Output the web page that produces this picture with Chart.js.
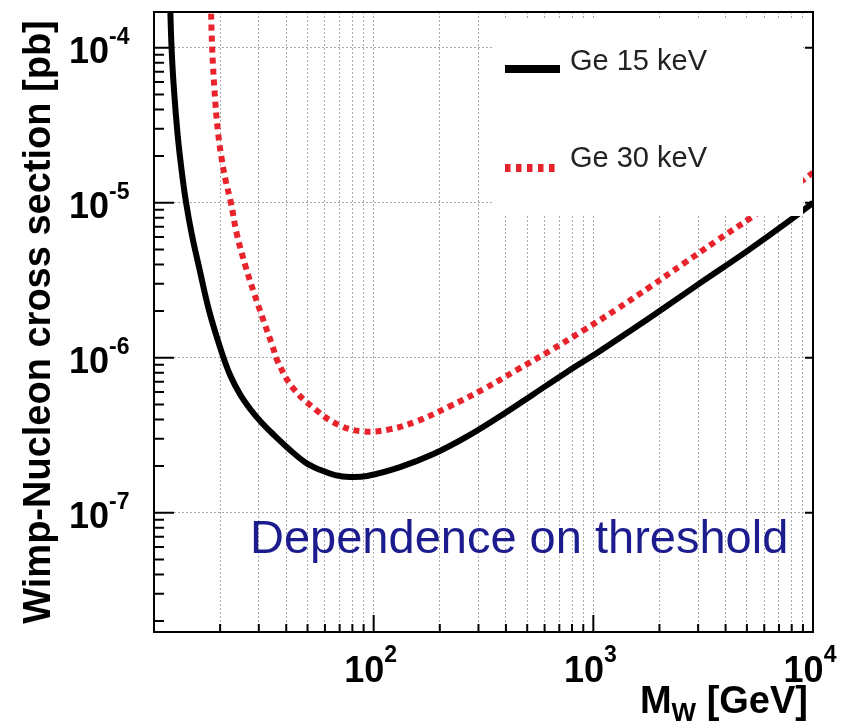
<!DOCTYPE html>
<html>
<head>
<meta charset="utf-8">
<script src="https://cdn.jsdelivr.net/npm/chart.js@4/dist/chart.umd.min.js"></script>
<style>
  body { margin: 0; background: #fff; }
  canvas { display: block; }
</style>
</head>
<body>
<canvas id="chart" width="846" height="721"></canvas>
<script>
// Ge 15 keV threshold (black, solid)
const mass15 = [11.8, 12.02, 12.34, 12.8, 13.36, 14.0, 14.9, 16.05, 17.8, 20.3, 22.2, 24.6, 27.4, 31.0, 35.5, 41.6, 48.7, 57.0, 66.7, 78.0, 93.3, 131.8, 186, 263, 376, 532, 753, 1077, 1522, 2177, 3080, 5050, 7935, 10000];
const sigma15 = [2.3e-4, 1.0e-4, 5.26e-5, 2.78e-5, 1.61e-5, 1.0e-5, 6.13e-6, 3.82e-6, 2.02e-6, 1.09e-6, 7.73e-7, 5.83e-7, 4.67e-7, 3.79e-7, 3.13e-7, 2.54e-7, 2.12e-7, 1.89e-7, 1.75e-7, 1.70e-7, 1.725e-7, 1.97e-7, 2.38e-7, 3.07e-7, 4.19e-7, 5.8e-7, 8.04e-7, 1.11e-6, 1.54e-6, 2.17e-6, 3.05e-6, 4.91e-6, 7.77e-6, 1.0e-5];

// Ge 30 keV threshold (red, dotted)
const mass30 = [18.1, 18.4, 19.0, 19.6, 20.4, 21.2, 22.4, 23.8, 26.2, 28.6, 31.5, 34.8, 36.4, 42.7, 54.9, 69.9, 89.1, 118, 157, 222, 315, 445, 636, 900, 1274, 1821, 2576, 3643, 5212, 10000];
const sigma30 = [2.3e-4, 1.0e-4, 4.54e-5, 2.78e-5, 1.86e-5, 1.39e-5, 1.0e-5, 6.32e-6, 3.82e-6, 2.59e-6, 1.74e-6, 1.165e-6, 9.6e-7, 6.44e-7, 4.58e-7, 3.66e-7, 3.35e-7, 3.45e-7, 3.89e-7, 4.86e-7, 6.25e-7, 8.28e-7, 1.11e-6, 1.5e-6, 2.05e-6, 2.88e-6, 4.05e-6, 5.69e-6, 8.0e-6, 1.56e-5];

const xDecades = [100, 1000, 10000];
const xExponents = ['2', '3', '4'];
const yDecades = [1e-7, 1e-6, 1e-5, 1e-4];
const yExponents = ['-7', '-6', '-5', '-4'];

const X_MIN = 10, X_MAX = 10000;
const Y_MIN = 1.7e-8, Y_MAX = 1.7e-4;

const isDecade = v => Math.abs(Math.log10(v) - Math.round(Math.log10(v))) < 1e-6;

function logTicks(min, max) {
  const out = [];
  for (let e = Math.floor(Math.log10(min)); e <= Math.ceil(Math.log10(max)); e++) {
    for (let m = 1; m <= 9; m++) {
      const v = m * Math.pow(10, e);
      if (v >= min * 0.9999 && v <= max * 1.0001) out.push(v);
    }
  }
  return out;
}

const FONT = '"Liberation Sans", Arial, Helvetica, sans-serif';

const decor = {
  id: 'decor',
  afterDatasetsDraw(chart) {
    const { ctx, chartArea: a, scales: { x, y } } = chart;
    ctx.save();

    // legend box (white, covers the curves like the original)
    ctx.fillStyle = '#fff';
    ctx.fillRect(492, 20, 311, 196);

    ctx.lineWidth = 8;
    ctx.strokeStyle = '#000';
    ctx.beginPath(); ctx.moveTo(505, 69); ctx.lineTo(560, 69); ctx.stroke();
    ctx.strokeStyle = '#e8232b';
    ctx.setLineDash([5.5, 5.5]);
    ctx.beginPath(); ctx.moveTo(505, 168); ctx.lineTo(560, 168); ctx.stroke();
    ctx.setLineDash([]);

    ctx.fillStyle = '#222';
    ctx.font = '29px ' + FONT;
    ctx.textAlign = 'left';
    ctx.textBaseline = 'alphabetic';
    ctx.fillText('Ge 15 keV', 570, 70);
    ctx.fillText('Ge 30 keV', 570, 167);

    // annotation
    ctx.fillStyle = '#1c1c8e';
    ctx.font = '47px ' + FONT;
    ctx.fillText('Dependence on threshold', 250, 553);

    // frame
    ctx.strokeStyle = '#000';
    ctx.lineWidth = 2;
    ctx.strokeRect(a.left, a.top, a.right - a.left, a.bottom - a.top);

    // tick marks (inside)
    ctx.beginPath();
    x.ticks.forEach(t => {
      const px = x.getPixelForValue(t.value);
      const len = isDecade(t.value) ? 17 : 8;
      ctx.moveTo(px, a.bottom); ctx.lineTo(px, a.bottom - len);
    });
    y.ticks.forEach(t => {
      const py = y.getPixelForValue(t.value);
      const major = isDecade(t.value);
      ctx.moveTo(a.left, py); ctx.lineTo(a.left + (major ? 20 : 10), py);
      if (major) { ctx.moveTo(a.right, py); ctx.lineTo(a.right - 8, py); }
    });
    ctx.stroke();

    // tick labels
    ctx.fillStyle = '#000';
    yDecades.forEach((v, i) => {
      const py = y.getPixelForValue(v);
      ctx.font = 'bold 36px ' + FONT;
      ctx.textAlign = 'right';
      ctx.fillText('10', a.left - 45, py + 15);
      ctx.font = 'bold 23px ' + FONT;
      ctx.textAlign = 'left';
      ctx.fillText(yExponents[i], a.left - 45, py - 4);
    });
    xDecades.forEach((v, i) => {
      const px = x.getPixelForValue(v);
      ctx.font = 'bold 36px ' + FONT;
      const w1 = ctx.measureText('10').width;
      ctx.font = 'bold 23px ' + FONT;
      const w2 = ctx.measureText(xExponents[i]).width;
      const left = px - (w1 + w2) / 2 - 3;
      ctx.textAlign = 'left';
      ctx.font = 'bold 36px ' + FONT;
      ctx.fillText('10', left, a.bottom + 50);
      ctx.font = 'bold 23px ' + FONT;
      ctx.fillText(xExponents[i], left + w1, a.bottom + 30);
    });

    // x title: M_W [GeV]
    ctx.textAlign = 'right';
    ctx.font = 'bold 38px ' + FONT;
    const tail = ' [GeV]';
    ctx.fillText(tail, 808, 713);
    const wTail = ctx.measureText(tail).width;
    ctx.font = 'bold 26px ' + FONT;
    ctx.fillText('W', 808 - wTail, 721);
    const wSub = ctx.measureText('W').width;
    ctx.font = 'bold 38px ' + FONT;
    ctx.fillText('M', 808 - wTail - wSub, 713);

    // y title
    ctx.translate(50, 322);
    ctx.rotate(-Math.PI / 2);
    ctx.textAlign = 'center';
    ctx.font = 'bold 38px ' + FONT;
    ctx.fillText('Wimp-Nucleon cross section [pb]', 0, 0);

    ctx.restore();
  }
};

new Chart(document.getElementById('chart'), {
  type: 'line',
  data: {
    datasets: [
      {
        label: 'Ge 15 keV',
        data: mass15.map((m, i) => ({ x: m, y: sigma15[i] })),
        borderColor: '#000',
        borderWidth: 6,
        borderJoinStyle: 'round',
        pointRadius: 0,
        tension: 0.4,
        fill: false,
        clip: 0
      },
      {
        label: 'Ge 30 keV',
        data: mass30.map((m, i) => ({ x: m, y: sigma30[i] })),
        borderColor: '#e8232b',
        borderWidth: 6,
        borderDash: [6, 5],
        pointRadius: 0,
        tension: 0.4,
        fill: false,
        clip: 0
      }
    ]
  },
  options: {
    responsive: false,
    animation: false,
    devicePixelRatio: 1,
    layout: { padding: { left: 154, right: 33, top: 12, bottom: 89 } },
    plugins: { legend: { display: false }, tooltip: { enabled: false } },
    elements: { line: { capBezierPoints: false } },
    scales: {
      x: {
        type: 'logarithmic',
        min: X_MIN, max: X_MAX,
        afterBuildTicks: s => { s.ticks = logTicks(X_MIN, X_MAX).map(v => ({ value: v })); },
        ticks: { display: false },
        grid: { color: '#a8a8a8', lineWidth: 1, drawTicks: false },
        border: { display: false, dash: [2, 2] }
      },
      y: {
        type: 'logarithmic',
        min: Y_MIN, max: Y_MAX,
        afterBuildTicks: s => { s.ticks = logTicks(Y_MIN, Y_MAX).map(v => ({ value: v })); },
        ticks: { display: false },
        grid: {
          color: c => (c.tick && isDecade(c.tick.value)) ? '#a8a8a8' : 'rgba(0,0,0,0)',
          lineWidth: 1,
          drawTicks: false
        },
        border: { display: false, dash: [2, 2] }
      }
    }
  },
  plugins: [decor]
});
</script>
</body>
</html>
